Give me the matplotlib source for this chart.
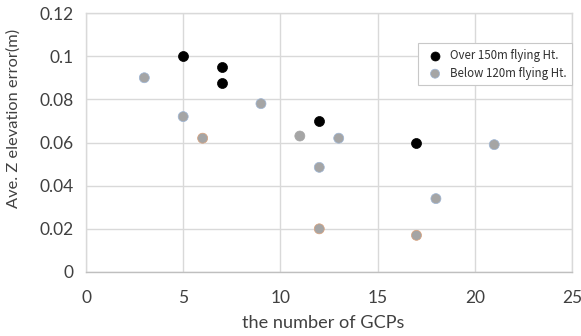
import matplotlib
matplotlib.use("Agg")
import matplotlib.pyplot as plt

over_x = [5, 7, 7, 12, 17]
over_y = [0.100, 0.095, 0.0875, 0.070, 0.060]

below_x = [3, 5, 6, 9, 11, 12, 13, 12, 17, 18, 21]
below_y = [0.090, 0.072, 0.062, 0.078, 0.063, 0.0485, 0.062, 0.020, 0.017, 0.034, 0.059]
below_edge = ['#9db5d5', '#9db5d5', '#d9a07a', '#9db5d5', '#a5a5a5', '#9db5d5',
              '#9db5d5', '#d9a07a', '#d9a07a', '#9db5d5', '#9db5d5']

xticks = [0, 5, 10, 15, 20, 25]
yticks = [0, 0.02, 0.04, 0.06, 0.08, 0.10, 0.12]
ytick_labels = ['0', '0.02', '0.04', '0.06', '0.08', '0.1', '0.12']

plt.rcParams['font.family'] = ['Lato', 'DejaVu Sans']

fig = plt.figure(figsize=(5.81, 3.36), dpi=100)
ax = fig.add_axes([86/581, 1-272/336, (572-86)/581, (272-13)/336])

ax.scatter(below_x, below_y, s=52, c='#a5a5a5', edgecolors=below_edge, linewidths=0.5,
           zorder=3, label='Below 120m flying Ht.')
ax.scatter(over_x, over_y, s=52, c='#000000', edgecolors='#000000', linewidths=0.5,
           zorder=4, label='Over 150m flying Ht.')

ax.set_xlim(0, 25)
ax.set_ylim(0, 0.12)
ax.set_xticks(xticks)
ax.set_xticklabels([str(t) for t in xticks])
ax.set_yticks(yticks)
ax.set_yticklabels(ytick_labels)
ax.tick_params(length=0, labelsize=12.5, colors='#404040', pad=9)
ax.tick_params(axis='x', pad=13)
ax.grid(True, color='#d9d9d9', linewidth=1)
ax.set_axisbelow(True)
for s in ax.spines.values():
    s.set_color('#d9d9d9')
    s.set_linewidth(1)
ax.spines['bottom'].set_color('#bfbfbf')

ax.set_xlabel('the number of GCPs', fontsize=13.1, color='#404040')
ax.xaxis.set_label_coords((323.5-86)/486, -(323-272)/259)
ax.xaxis.label.set_va('center')
ax.set_ylabel('Ave. Z elevation error(m)', fontsize=11.8, color='#404040')
ax.yaxis.set_label_coords((13.5-86)/486, (272-118)/259)
ax.yaxis.label.set_va('center')

handles, labels = ax.get_legend_handles_labels()
leg = ax.legend(handles[::-1], labels[::-1], loc='upper left',
                bbox_to_anchor=((412-86)/486, 1-(37-13)/259),
                frameon=True, fancybox=False, edgecolor='#c8c8c8', framealpha=1,
                handletextpad=0.3, borderpad=0.5, labelspacing=0.45, markerscale=0.9,
                prop={'family': ['Noto Sans CJK KR', 'DejaVu Sans'], 'size': 8.3})
leg.get_frame().set_linewidth(0.8)
for t in leg.get_texts():
    t.set_color('#303030')

fig.savefig('out.png', dpi=100)
